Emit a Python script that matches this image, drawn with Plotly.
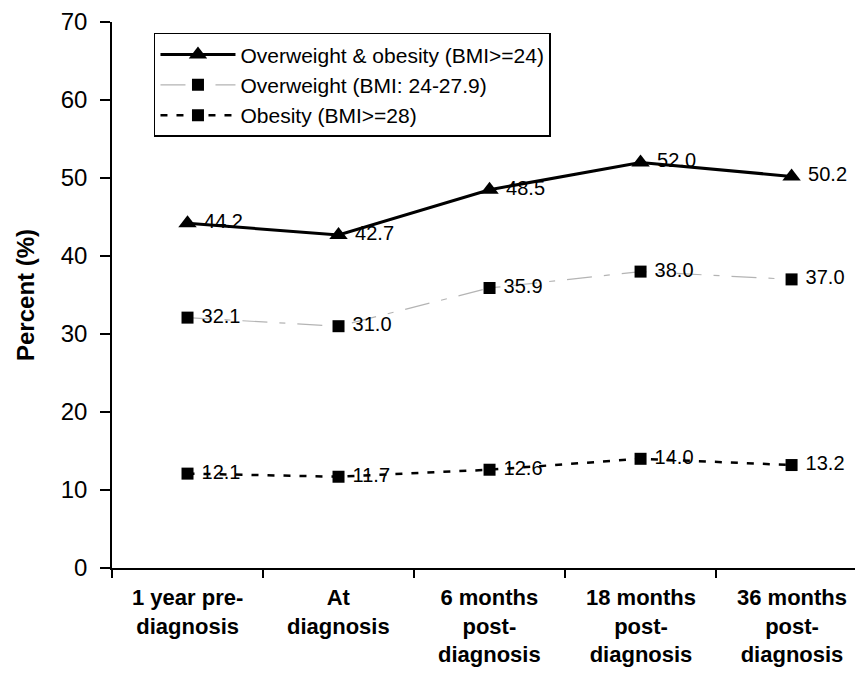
import plotly.graph_objects as go

categories = ["1 year pre-<br>diagnosis", "At<br>diagnosis", "6 months<br>post-<br>diagnosis",
              "18 months<br>post-<br>diagnosis", "36 months<br>post-<br>diagnosis"]
overweight_obesity = [44.2, 42.7, 48.5, 52.0, 50.2]
overweight = [32.1, 31.0, 35.9, 38.0, 37.0]
obesity = [12.1, 11.7, 12.6, 14.0, 13.2]
y_ticks = [0, 10, 20, 30, 40, 50, 60, 70]

xs = list(range(len(categories)))
font = "Arial, Liberation Sans, sans-serif"
label_font = dict(size=20, color="black", family=font)

fig = go.Figure()
fig.add_trace(go.Scatter(
    x=xs, y=overweight_obesity, mode="lines+markers+text",
    name="Overweight & obesity (BMI>=24)",
    line=dict(color="black", width=3),
    marker=dict(symbol="triangle-up", size=16, color="black"),
    text=[f" {v:.1f}" for v in overweight_obesity], textposition="middle right",
    textfont=label_font))
fig.add_trace(go.Scatter(
    x=xs, y=overweight, mode="lines+markers+text",
    name="Overweight (BMI: 24-27.9)",
    line=dict(color="#b4b4b4", width=1.2, dash="25px,12px,6px,12px"),
    marker=dict(symbol="square", size=12, color="black"),
    text=[f" {v:.1f}" for v in overweight], textposition="middle right",
    textfont=label_font))
fig.add_trace(go.Scatter(
    x=xs, y=obesity, mode="lines+markers+text",
    name="Obesity (BMI>=28)",
    line=dict(color="black", width=2.5, dash="7px,9px"),
    marker=dict(symbol="square", size=12, color="black"),
    text=[f" {v:.1f}" for v in obesity], textposition="middle right",
    textfont=label_font))

fig.update_layout(
    width=855, height=673,
    margin=dict(l=112, r=0, t=22, b=105),
    paper_bgcolor="white", plot_bgcolor="white",
    font=dict(family=font, color="black"),
    showlegend=True,
    legend=dict(x=0.0565, y=0.98, xanchor="left", yanchor="top",
                bordercolor="black", borderwidth=1.5, bgcolor="white",
                font=dict(size=21, family=font), tracegroupgap=0,
                itemwidth=75),
)
fig.update_xaxes(
    range=[-0.5, 4.42], tickmode="array", tickvals=[i - 0.5 for i in range(6)],
    ticktext=[""] * 6, ticks="outside", ticklen=8, tickcolor="black", tickwidth=1.5,
    showline=True, linecolor="black", linewidth=1.5, showgrid=False, zeroline=False)
fig.update_yaxes(
    range=[0, 70], tickvals=y_ticks, ticks="outside",
    ticklen=10, tickcolor="black", tickwidth=1.5, showline=True, linecolor="black",
    linewidth=1.5, showgrid=False, zeroline=False,
    tickfont=dict(size=24, family=font), ticklabelstandoff=8)

fig.add_annotation(x=(25 - 112) / 743, y=0.5, xref="paper", yref="paper",
                   text="<b>Percent (%)</b>", textangle=-90, showarrow=False,
                   xanchor="center", yanchor="middle",
                   font=dict(size=24, family=font, color="black"))

for i, c in enumerate(categories):
    fig.add_annotation(x=i, y=0, xref="x", yref="y", yshift=-15, yanchor="top",
                       text=f"<b>{c}</b>", showarrow=False,
                       font=dict(size=22, family=font, color="black"))

fig.write_html("out.html")
